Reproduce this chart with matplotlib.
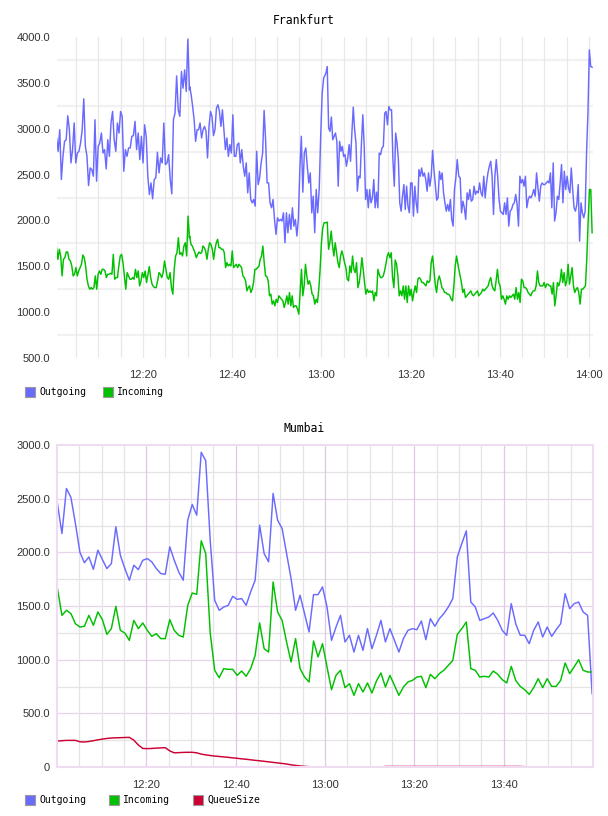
import numpy as np
import matplotlib
matplotlib.use("Agg")
import matplotlib.pyplot as plt
from matplotlib.patches import Rectangle

# Frankfurt : valeurs lues par segments (minutes après 12:00)
fra_out_segments = [(0.6, 30.4), (30.45, 60.5), (61.0, 90.45), (90.8, 120.7)]
fra_out_a = [2899, 2754, 2989, 2446, 2699, 2862, 2880, 3141, 2989, 2627,
             2772, 3062, 2627, 2735, 2754, 2844, 2989, 3326, 2808, 2699,
             2380, 2572, 2554, 2482, 3098, 2428, 2808, 2844, 2953, 2735,
             2772, 2562, 2880, 2699, 3062, 3188, 2880, 2754, 3062, 2953,
             3188, 3134, 2536, 2772, 2699, 2790, 2790, 2917, 2924, 3080,
             2772, 2953, 2663, 2917, 2627, 3043, 2917, 2482, 2283, 2409,
             2236, 2446, 2464, 2743, 2518, 2681, 2627, 3062, 2609, 2627,
             2717, 2446, 2290, 3098, 3170, 3576, 3206, 3134, 3623, 3442,
             3641, 3406, 3975, 3424]
fra_out_b = [3460, 3370, 3243, 3098, 2862, 2989, 2989, 3062, 2899, 2989,
             3025, 2971, 2681, 3025, 3188, 3134, 2924, 2989, 3225, 3261,
             3188, 3025, 3206, 2989, 2772, 2899, 2699, 2826, 2735, 3152,
             2699, 2699, 2826, 2844, 2627, 2772, 2591, 2482, 2627, 2301,
             2518, 2228, 2192, 2228, 2156, 2754, 2391, 2464, 2627, 2735,
             3199, 2880, 2409, 2409, 2192, 2138, 2228, 2011, 1848, 2029,
             1993, 2011, 1993, 2083, 1757, 2083, 1866, 2065, 1902, 2138,
             1938, 2011, 1830, 2011, 2554, 2917, 2308, 2735, 2790, 2591,
             2409, 2518, 2083, 2264, 1866, 2337, 2083, 2337, 2917, 3388,
             3551]
fra_out_c = [3605, 3678, 3007, 2971, 3127, 2880, 2917, 2953, 2862, 2373,
             2862, 2754, 2808, 2699, 2717, 2591, 2681, 2826, 2645, 2953,
             3235, 2989, 2844, 2319, 2482, 2464, 2844, 3152, 2808, 2228,
             2337, 2138, 2337, 2192, 2246, 2446, 2138, 2308, 2138, 2735,
             2717, 2790, 2808, 3170, 3188, 3043, 3243, 3206, 3206, 2663,
             2373, 2953, 2844, 2663, 2192, 2101, 2264, 2391, 2120, 2373,
             2156, 2083, 2409, 2409, 2047, 2373, 2192, 2083, 2554, 2482,
             2572, 2482, 2518, 2446, 2319, 2518, 2373, 2482, 2764, 2554,
             2391, 2221, 2246, 2536, 2446, 2518, 2301, 2192, 2101, 2174,
             2101, 2228, 2011, 1938, 2337, 2464, 2663]
fra_out_d = [2482, 2464, 2083, 2210, 2138, 2011, 2301, 2228, 2337, 2210,
             2228, 2373, 2283, 2319, 2301, 2409, 2301, 2264, 2482, 2246,
             2409, 2518, 2591, 2645, 2482, 2065, 2482, 2663, 2482, 2228,
             2101, 2083, 2065, 2192, 2065, 2246, 1938, 2101, 2120, 2174,
             2192, 2283, 2174, 1938, 2482, 2409, 2446, 2373, 2482, 2138,
             2228, 2264, 2246, 2283, 2337, 2264, 2518, 2355, 2210, 2373,
             2409, 2391, 2391, 2409, 2428, 2409, 2518, 2138, 2627, 1993,
             2083, 2264, 2228, 2409, 2609, 2192, 2536, 2337, 2482, 2355,
             2301, 2572, 2337, 2138, 2101, 2174, 2391, 1775, 2192, 2083,
             2029, 2101, 2735, 3170, 3859, 3678, 3670]

fra_in_segments = [(0.6, 30.4), (30.45, 60.6), (61.0, 90.3), (90.8, 120.7)]
fra_in_a = [1703, 1576, 1685, 1612, 1395, 1576, 1594, 1656, 1656, 1576,
            1558, 1504, 1395, 1413, 1486, 1395, 1449, 1486, 1522, 1623,
            1594, 1504, 1359, 1286, 1250, 1268, 1250, 1268, 1395, 1250,
            1413, 1449, 1413, 1467, 1467, 1449, 1377, 1413, 1413, 1424,
            1413, 1630, 1359, 1377, 1377, 1504, 1612, 1630, 1540, 1395,
            1250, 1431, 1395, 1359, 1359, 1377, 1359, 1467, 1377, 1449,
            1286, 1341, 1431, 1377, 1449, 1323, 1413, 1496, 1377, 1305,
            1279, 1268, 1268, 1341, 1431, 1413, 1377, 1431, 1558, 1467,
            1377, 1359, 1431, 1268, 1196, 1467, 1612, 1648, 1812, 1630,
            1648, 1612, 1721, 1757, 1612, 2047, 1812]
fra_in_b = [1830, 1739, 1721, 1685, 1648, 1594, 1630, 1656, 1641, 1648,
            1721, 1703, 1667, 1576, 1685, 1757, 1739, 1685, 1576, 1685,
            1757, 1794, 1703, 1703, 1685, 1685, 1648, 1486, 1540, 1504,
            1522, 1504, 1667, 1486, 1504, 1522, 1486, 1522, 1504, 1486,
            1395, 1377, 1341, 1232, 1268, 1286, 1214, 1250, 1323, 1467,
            1467, 1486, 1496, 1576, 1612, 1721, 1540, 1395, 1388, 1341,
            1178, 1196, 1087, 1123, 1069, 1141, 1105, 1178, 1160, 1141,
            1123, 1051, 1105, 1178, 1087, 1214, 1069, 1178, 1051, 1069,
            1069, 1033, 979, 1214, 1467, 1178, 1286, 1522, 1395, 1305,
            1341, 1286, 1196, 1178, 1087, 1141, 1105, 1250, 1467, 1757,
            1920, 1975]
fra_in_c = [1975, 1982, 1685, 1757, 1884, 1721, 1612, 1757, 1648, 1540,
            1486, 1612, 1667, 1612, 1540, 1486, 1359, 1341, 1504, 1431,
            1612, 1467, 1431, 1540, 1268, 1323, 1431, 1594, 1467, 1323,
            1196, 1250, 1214, 1232, 1214, 1232, 1123, 1214, 1178, 1467,
            1413, 1377, 1377, 1395, 1449, 1522, 1612, 1648, 1594, 1648,
            1377, 1268, 1569, 1522, 1395, 1178, 1232, 1178, 1286, 1141,
            1286, 1105, 1286, 1178, 1250, 1123, 1214, 1286, 1214, 1359,
            1377, 1359, 1323, 1323, 1305, 1286, 1341, 1323, 1341, 1540,
            1612, 1467, 1305, 1214, 1341, 1395, 1341, 1268, 1250, 1214,
            1214, 1196, 1196, 1178, 1141, 1123, 1286, 1504, 1612]
fra_in_d = [1467, 1395, 1323, 1214, 1250, 1160, 1178, 1196, 1214, 1232,
            1196, 1178, 1196, 1214, 1232, 1178, 1196, 1214, 1250, 1232,
            1250, 1268, 1286, 1341, 1377, 1286, 1250, 1232, 1341, 1467,
            1323, 1286, 1141, 1178, 1141, 1087, 1178, 1141, 1178, 1160,
            1178, 1196, 1141, 1268, 1141, 1214, 1105, 1359, 1341, 1268,
            1268, 1250, 1214, 1196, 1178, 1214, 1232, 1232, 1286, 1449,
            1323, 1286, 1286, 1286, 1323, 1268, 1305, 1305, 1286, 1286,
            1196, 1323, 1069, 1178, 1323, 1286, 1341, 1467, 1323, 1431,
            1286, 1341, 1522, 1305, 1395, 1486, 1286, 1214, 1250, 1268,
            1214, 1087, 1250, 1250, 1268, 1286, 1576, 1975, 2337, 2337,
            1866]

# Mumbai : une valeur par minute
mum_outgoing = [2455, 2175, 2595, 2511, 2269, 2000, 1903, 1957, 1842, 2020,
                1933, 1849, 1895, 2238, 1973, 1849, 1740, 1880, 1839, 1926,
                1942, 1911, 1849, 1802, 1796, 2051, 1926, 1817, 1740, 2300,
                2446, 2346, 2932, 2854, 2113, 1553, 1460, 1490, 1506, 1590,
                1562, 1569, 1506, 1631, 1740, 2253, 1989, 1911, 2549, 2300,
                2222, 1989, 1755, 1460, 1600, 1429, 1258, 1606, 1606, 1678,
                1491, 1180, 1304, 1413, 1165, 1227, 1071, 1227, 1087, 1289,
                1102, 1227, 1366, 1165, 1289, 1180, 1071, 1196, 1273, 1289,
                1279, 1360, 1186, 1382, 1311, 1382, 1429, 1491, 1569, 1957,
                2082, 2200, 1537, 1491, 1366, 1382, 1397, 1435, 1366, 1273,
                1227, 1522, 1335, 1227, 1227, 1149, 1273, 1351, 1211, 1304,
                1217, 1279, 1335, 1615, 1475, 1522, 1537, 1444, 1413, 683]
mum_incoming = [1662, 1413, 1460, 1429, 1335, 1304, 1311, 1413, 1320, 1444,
                1373, 1236, 1289, 1497, 1273, 1248, 1180, 1366, 1289, 1342,
                1273, 1217, 1242, 1196, 1196, 1373, 1273, 1227, 1211, 1506,
                1621, 1609, 2107, 1989, 1250, 901, 832, 916, 910, 910,
                854, 894, 845, 916, 1040, 1342, 1102, 1071, 1724, 1444,
                1366, 1165, 978, 1196, 916, 838, 792, 1174, 1025, 1149,
                932, 720, 854, 901, 739, 776, 668, 776, 699, 783,
                689, 801, 876, 745, 854, 761, 668, 745, 792, 807,
                838, 845, 739, 863, 823, 870, 901, 947, 994, 1236,
                1289, 1351, 916, 901, 838, 845, 838, 894, 863, 814,
                783, 938, 807, 751, 720, 677, 739, 823, 739, 823,
                751, 751, 807, 969, 870, 932, 1000, 901, 885, 885]
mum_queue = [242, 245, 248, 248, 248, 235, 233, 238, 245, 253,
             260, 266, 270, 272, 273, 275, 276, 250, 205, 173,
             171, 173, 176, 178, 180, 150, 132, 134, 136, 137,
             137, 132, 120, 113, 107, 102, 98, 94, 90, 85,
             81, 76, 72, 67, 62, 58, 53, 48, 43, 38,
             33, 28, 20, 15, 10, 6, 3, 2, 0, 0,
             0, 0, 0, 0, 0, 0, 0, 0, 0, 0,
             0, 0, 0, 5, 5, 5, 5, 5, 5, 5,
             5, 5, 5, 5, 5, 5, 5, 5, 5, 5,
             5, 5, 5, 5, 5, 5, 5, 5, 5, 5,
             5, 5, 5, 5, 3, 2, 0, 0, 0, 0,
             0, 0, 0, 0, 0, 0, 0, 0, 0, 0]

C_OUT = "#6a6aff"
C_IN = "#00c000"
C_QUEUE = "#cc0033"


def serie(segments, parts):
    t, v = [], []
    for (t0, t1), vals in zip(segments, parts):
        t.extend(np.linspace(t0, t1, len(vals)))
        v.extend(vals)
    return np.array(t), np.array(v)


def hhmm(m):
    m = int(round(m))
    return f"{12 + m // 60}:{m % 60:02d}"


W, H = 608, 816
fig = plt.figure(figsize=(W / 100, H / 100), dpi=100)
tick_font = dict(family="Liberation Sans", size=8, color="#333333")
mono = "DejaVu Sans Mono"

# --- Frankfurt ---
ax1 = fig.add_axes([57 / W, 1 - 358 / H, 536 / W, 321 / H])
for y in range(750, 4000, 500):
    ax1.axhline(y, color="#f1f1f1", lw=1.6, zorder=0)
for m in range(5, 121, 5):
    ax1.axvline(m, color="#e8e8e8", lw=0.9, zorder=0)
t_out, v_out = serie(fra_out_segments, [fra_out_a, fra_out_b, fra_out_c, fra_out_d])
t_in, v_in = serie(fra_in_segments, [fra_in_a, fra_in_b, fra_in_c, fra_in_d])
ax1.plot(t_out, v_out, color=C_OUT, lw=1.05)
ax1.plot(t_in, v_in, color=C_IN, lw=1.05)
ax1.set_xlim(0.7, 120.9)
ax1.set_ylim(500, 4000)
ax1.set_yticks(range(500, 4001, 500))
ax1.set_yticklabels([f"{v:.1f}" for v in range(500, 4001, 500)], **tick_font)
ax1.set_xticks(range(20, 121, 20))
ax1.set_xticklabels([hhmm(m) for m in range(20, 121, 20)], **tick_font)
ax1.tick_params(length=0, pad=5)
ax1.tick_params(axis="x", pad=9)
for s in ax1.spines.values():
    s.set_visible(False)
fig.text(0.5, 1 - 20 / H, "Frankfurt", ha="center", va="center", family=mono, size=8.3)

# --- Mumbai ---
ax2 = fig.add_axes([57 / W, 1 - 767 / H, 536 / W, 322 / H])
for y in range(250, 3000, 500):
    ax2.axhline(y, color="#e4e4e4", lw=0.9, zorder=0)
for y in range(500, 3000, 500):
    ax2.axhline(y, color="#e9d3ec", lw=0.9, zorder=0)
for m in range(5, 120, 5):
    ax2.axvline(m, color="#e0c8e4" if m % 20 == 0 else "#e4e4e4", lw=0.9, zorder=0)
t_m = np.linspace(0.1, 119.8, len(mum_outgoing))
ax2.plot(t_m, mum_outgoing, color=C_OUT, lw=1.05)
ax2.plot(t_m, mum_incoming, color=C_IN, lw=1.05)
ax2.plot(t_m, mum_queue, color=C_QUEUE, lw=1.05)
ax2.set_xlim(0, 120)
ax2.set_ylim(0, 3000)
ax2.set_yticks(range(0, 3001, 500))
ax2.set_yticklabels(["0"] + [f"{v:.1f}" for v in range(500, 3001, 500)], **tick_font)
ax2.set_xticks(range(20, 101, 20))
ax2.set_xticklabels([hhmm(m) for m in range(20, 101, 20)], **tick_font)
ax2.tick_params(length=0, pad=5)
ax2.tick_params(axis="x", pad=9)
for s in ax2.spines.values():
    s.set_color("#f0dcf2")
    s.set_linewidth(1.5)
fig.text(0.5, 1 - 429 / H, "Mumbai", ha="center", va="center", family=mono, size=8.3)


def legend(y, items):
    for x, label, color in items:
        fig.add_artist(Rectangle((x / W, 1 - (y + 5) / H), 10 / W, 10 / H,
                                 transform=fig.transFigure, fc=color, ec="#9a9a9a", lw=0.8))
        fig.text((x + 14) / W, 1 - y / H, label, ha="left", va="center", family=mono, size=7)


legend(392, [(25, "Outgoing", C_OUT), (103, "Incoming", C_IN)])
legend(800, [(25, "Outgoing", C_OUT), (109, "Incoming", C_IN), (193, "QueueSize", C_QUEUE)])

fig.savefig("out.png", dpi=100)
